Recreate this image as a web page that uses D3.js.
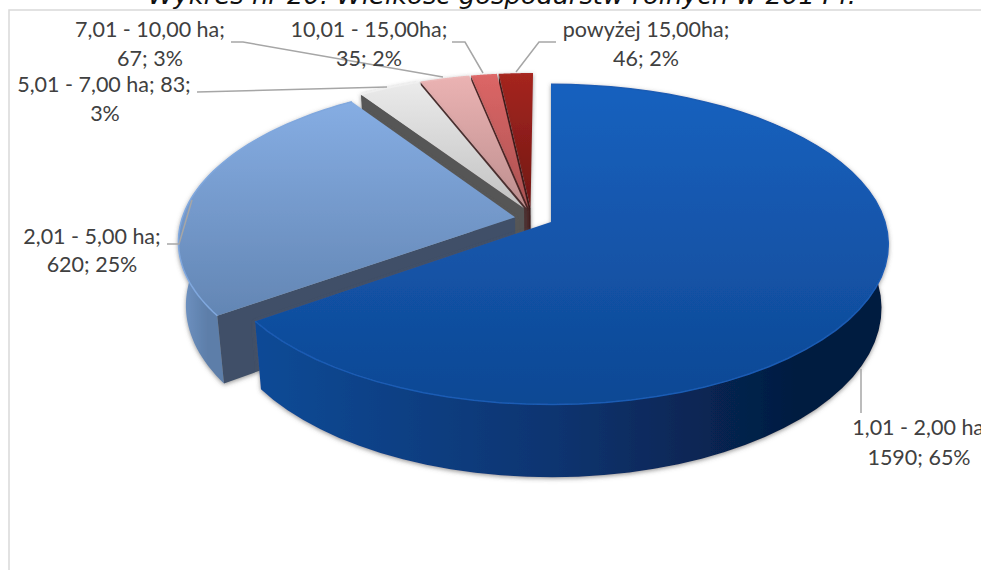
<!DOCTYPE html>
<html>
<head>
<meta charset="utf-8">
<script src="https://cdn.jsdelivr.net/npm/d3@7"></script>
<style>
html, body { margin: 0; padding: 0; background: #fff; overflow: hidden; }
text { font-family: Lato, "Open Sans", sans-serif; fill: #404040; }
</style>
</head>
<body>
<div id="chart"></div>
<script>
// data
const categories = ["1,01 - 2,00 ha", "2,01 - 5,00 ha", "5,01 - 7,00 ha", "7,01 - 10,00 ha", "10,01 - 15,00ha", "powyżej 15,00ha"];
const values = [1590, 620, 83, 67, 35, 46];
const shares = [65, 25, 3, 3, 2, 2];
const chartTitle = "Wykres nr 20. Wielkość gospodarstw rolnych w 2014 r.";

const width = 981, height = 570;
const svg = d3.select("#chart").append("svg")
    .attr("width", width)
    .attr("height", height)
    .style("display", "block");
const defs = svg.append("defs");

svg.append("rect")
    .attr("x", 9).attr("y", 10)
    .attr("width", 1000).attr("height", 600)
    .attr("fill", "#fff")
    .attr("stroke", "#d9d9d9").attr("stroke-width", 1.5);

svg.append("text")
    .attr("x", 502).attr("y", 4)
    .attr("text-anchor", "middle")
    .style("font-family", "'DejaVu Sans'")
    .style("font-style", "oblique")
    .style("font-size", "25px")
    .style("fill", "#111")
    .attr("textLength", 708)
    .attr("lengthAdjust", "spacingAndGlyphs")
    .text(chartTitle);

// fake 3d: the pie lies on a plane seen in perspective
const cx = 551, cy = 222, persp = 0.14, pieHeight = 62.5;
const rx = d3.scaleLinear().domain([0, 1]).range([0, 334]);
const ry = d3.scaleLinear().domain([0, 1]).range([0, 157]);

function project(u, v, z) {
    let d = 1 - persp * v;
    return [cx + rx(u) / d * (1 - 0.02 * z), cy + ry(v) / d + z * pieHeight / d];
}

// how far each slice is pulled out of the pie
const explode = [[0, 0], [-0.108, -0.03], [-0.082, -0.088], [-0.074, -0.088], [-0.068, -0.088], [-0.062, -0.088]];

const topColors = [["#1962c0", "#0e4894"], ["#8ab2e9", "#6386b4"], ["#ededed", "#bcbcbc"], ["#ebb3b3", "#b88a8a"], ["#dc6666", "#a65050"], ["#a5251f", "#6a1512"]];
const wallColors = [["#0f4a96", "#0c3470", "#041c40"], ["#7094c4", "#5d7ea9", "#5d7ea9"]];
const edgeColors = ["#0b2f66", "#3f5068", "#575757", "#4a2c2c", "#4a1c1c", "#3a0c0c"];
const rimColors = ["#1a5cb4", "#80a8de", "#f0f0f0", "#ecb8b8", "#dd6a6a", "#a82a24"];

const slices = d3.pie().value(d => d).sort(null)(values);

let shadow = defs.append("filter").attr("id", "shadow")
    .attr("x", "-10%").attr("y", "-10%").attr("width", "120%").attr("height", "120%");
shadow.append("feDropShadow")
    .attr("dx", 0).attr("dy", 1.5)
    .attr("stdDeviation", 2.2)
    .attr("flood-color", "#555")
    .attr("flood-opacity", 0.6);

slices.forEach(function(d, i) {
    let top = defs.append("linearGradient").attr("id", "top" + i)
        .attr("gradientUnits", "userSpaceOnUse")
        .attr("x1", 0).attr("x2", 0).attr("y1", 75)
        .attr("y2", i == 0 ? 405 : i == 1 ? 315 : 225);
    top.append("stop").attr("offset", 0).attr("stop-color", topColors[i][0]);
    top.append("stop").attr("offset", 1).attr("stop-color", topColors[i][1]);

    if (i > 1) return; // the small slices show no outer wall
    let wall = defs.append("linearGradient").attr("id", "wall" + i)
        .attr("gradientUnits", "userSpaceOnUse")
        .attr("y1", 0).attr("y2", 0)
        .attr("x1", i == 0 ? 260 : 180).attr("x2", i == 0 ? 800 : 230);
    wall.append("stop").attr("offset", 0).attr("stop-color", wallColors[i][0]);
    wall.append("stop").attr("offset", 0.55).attr("stop-color", wallColors[i][1]);
    wall.append("stop").attr("offset", 1).attr("stop-color", wallColors[i][2]);
});

const line = d3.line();

// back slices first, every slice paints over the one before it
const order = [5, 4, 3, 2, 1, 0];
order.forEach(function(i) {
    let d = slices[i];
    let du = explode[i][0], dv = explode[i][1];
    let g = svg.append("g").attr("filter", "url(#shadow)");

    let angles = d3.range(0, 61).map(k => d.startAngle + (d.endAngle - d.startAngle) * k / 60);
    let rim = z => angles.map(a => project(Math.sin(a) + du, -Math.cos(a) + dv, z));
    let apex = z => project(du, dv, z);

    // outer wall
    if (i < 2) {
        g.append("path")
            .attr("d", line(rim(0).concat(rim(1).reverse())) + "Z")
            .attr("fill", `url(#wall${i})`);
    }

    // wall along the start edge, the big slice keeps its own hidden
    if (i > 0) {
        g.append("path")
            .attr("d", line([rim(0)[0], apex(0), apex(1), rim(1)[0]]) + "Z")
            .attr("fill", edgeColors[i]);
    }

    // top face
    g.append("path")
        .attr("d", line([apex(0)].concat(rim(0))) + "Z")
        .attr("fill", `url(#top${i})`);

    // light rim along the outer edge
    g.append("path")
        .attr("d", line(rim(0)))
        .attr("fill", "none")
        .attr("stroke", rimColors[i])
        .attr("stroke-width", 1.5);
});

// leader lines
const leaders = [
    [[861, 369], [861, 413]],
    [[167, 244], [179, 244], [192, 200]],
    [[197, 92], [387, 87]],
    [[231, 42], [243, 42], [443, 77]],
    [[452, 42], [465, 42], [483, 73]],
    [[556, 42], [539, 42], [516, 72]]
];
svg.selectAll(".leader").data(leaders).enter().append("path")
    .attr("class", "leader")
    .attr("d", d => line(d))
    .attr("fill", "none")
    .attr("stroke", "#a6a6a6")
    .attr("stroke-width", 1.5);

// labels, broken in two lines like in the chart
const labelRows = [
    [[`${categories[0]};`, 921, 435], [`${values[0]}; ${shares[0]}%`, 919, 465]],
    [[`${categories[1]};`, 92, 244], [`${values[1]}; ${shares[1]}%`, 92, 272]],
    [[`${categories[2]}; ${values[2]};`, 104, 92], [`${shares[2]}%`, 105, 121]],
    [[`${categories[3]};`, 150, 37], [`${values[3]}; ${shares[3]}%`, 150, 66]],
    [[`${categories[4]};`, 369, 37], [`${values[4]}; ${shares[4]}%`, 369, 66]],
    [[`${categories[5]};`, 646, 37], [`${values[5]}; ${shares[5]}%`, 646, 66]]
];
labelRows.forEach(function(rows) {
    rows.forEach(function(r) {
        svg.append("text")
            .attr("x", r[1]).attr("y", r[2])
            .attr("text-anchor", "middle")
            .style("font-size", "21.5px")
            .text(r[0]);
    });
});
</script>
</body>
</html>
